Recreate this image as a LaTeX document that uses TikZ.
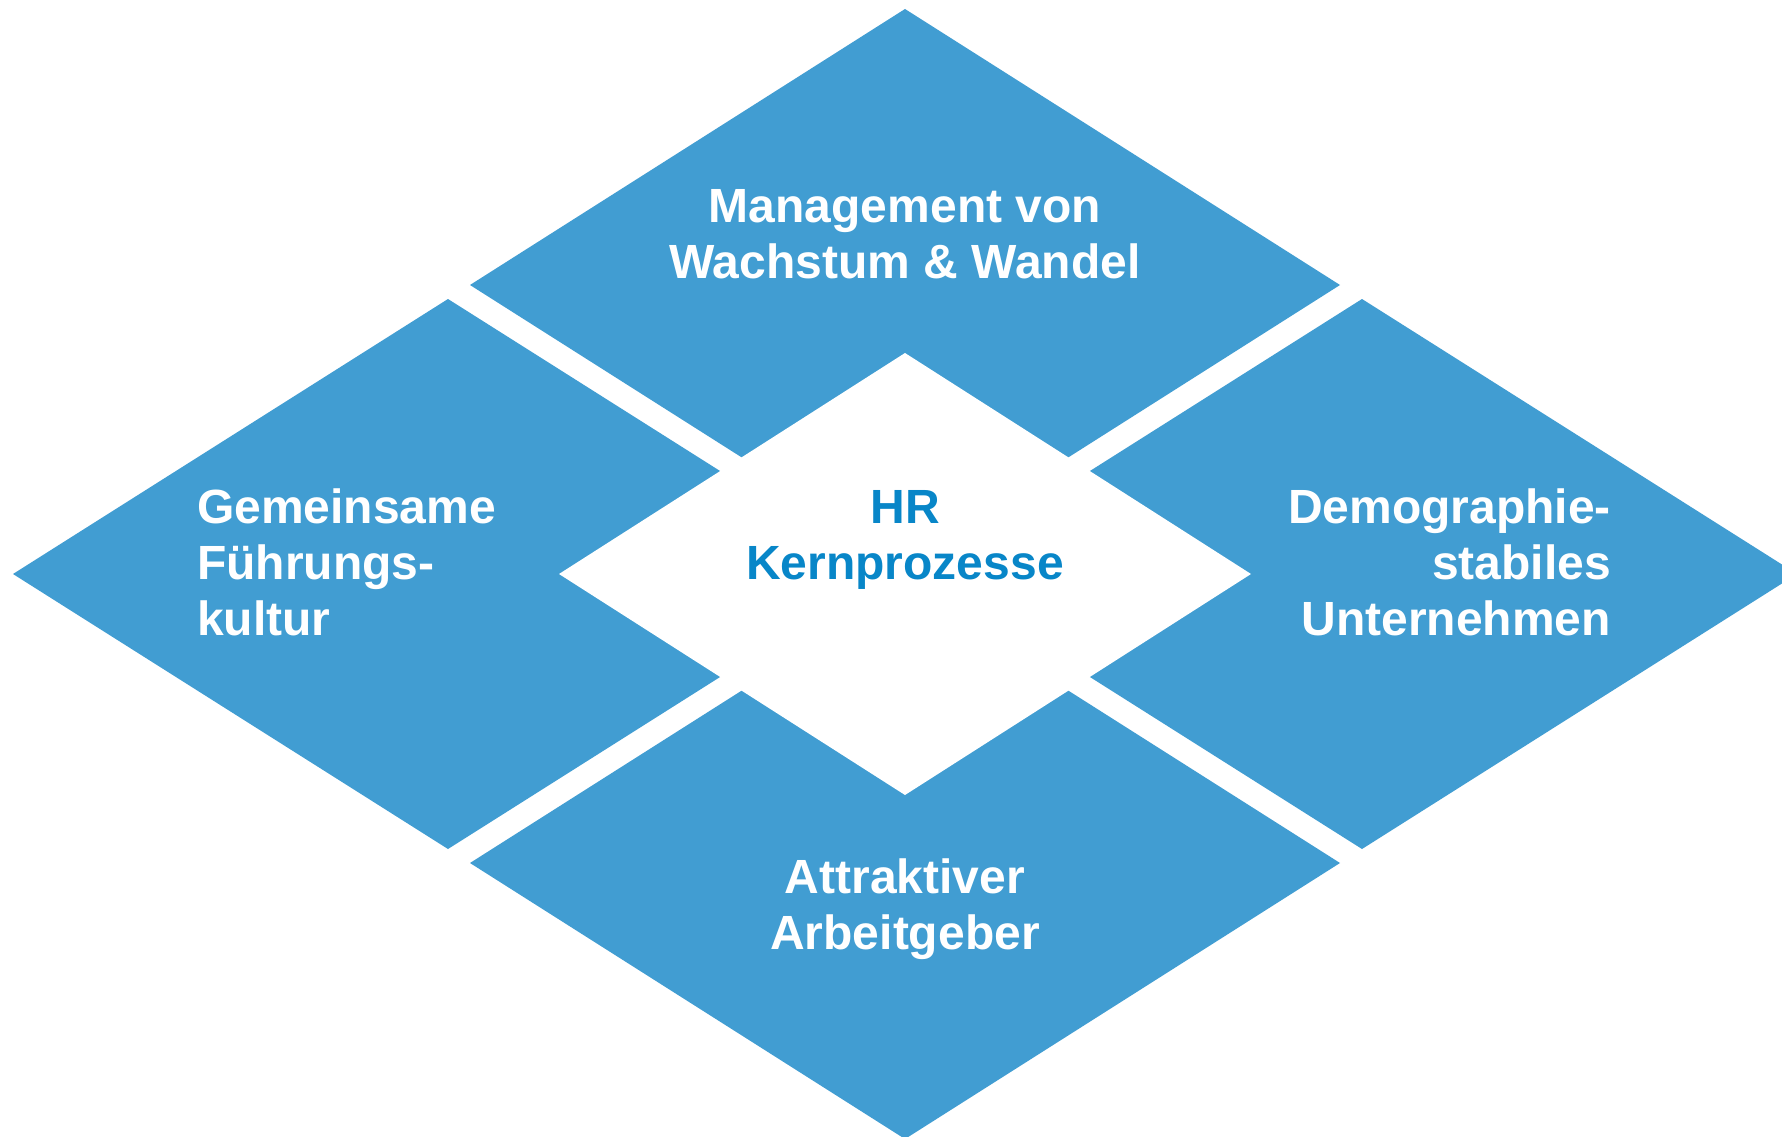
\documentclass[tikz,border=0pt]{standalone}
\usepackage{fontspec}
\setmainfont{Liberation Sans}
\definecolor{tileblue}{RGB}{65,157,210}
\definecolor{coreblue}{RGB}{8,134,200}
\begin{document}
\begin{tikzpicture}[x=1pt,y=-1pt,
  tile/.style={fill=tileblue},
  hole/.style={fill=white},
  lbl/.style={font=\fontsize{48}{56}\selectfont\bfseries, inner sep=0pt, anchor=base},
]
\useasboundingbox (0,0) rectangle (1782,1137);
\clip (0,0) rectangle (1782,1137);
\fill[white] (0,0) rectangle (1782,1137);
% four tiles
\fill[tile] (905,9) -- (1340,285) -- (905,561) -- (470,285) -- cycle;
\fill[tile] (448,299) -- (883,574) -- (448,849) -- (13,574) -- cycle;
\fill[tile] (1362,299) -- (1797,574) -- (1362,849) -- (927,574) -- cycle;
\fill[tile] (905,587) -- (1340,863) -- (905,1139) -- (470,863) -- cycle;
% central white diamond
\fill[hole] (905,353) -- (1251,574) -- (905,795) -- (559,574) -- cycle;
% labels (anchor = baseline of the last line)
\node[lbl, text=white, align=center] (top) at (905,278) {Management von\\Wachstum \& Wandel};
\node[lbl, text=coreblue, align=center] (core) at (905,579) {HR\\Kernprozesse};
\node[lbl, text=white, align=left, anchor=base west] (left) at (197,635) {Gemeinsame\\Führungs-\\kultur};
\node[lbl, text=white, align=right, anchor=base east] (right) at (1611,635) {Demographie-\\stabiles\\Unternehmen};
\node[lbl, text=white, align=center] (bottom) at (905,949) {Attraktiver\\Arbeitgeber};
\end{tikzpicture}
\end{document}
